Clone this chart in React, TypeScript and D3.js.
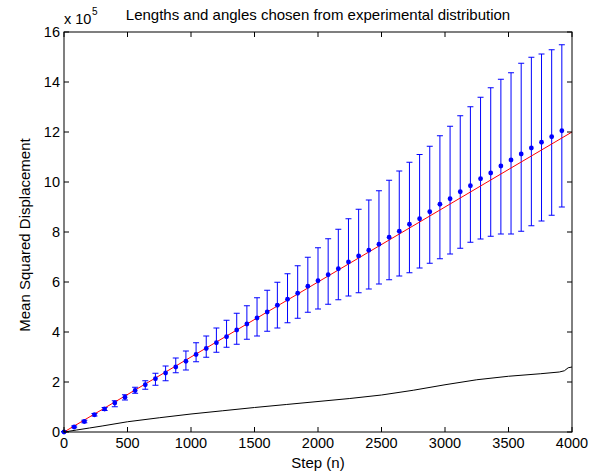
import React from "react";
import * as d3 from "d3";

// Step numbers where mean squared displacement was sampled
const steps = [
  0, 80, 160, 240, 320, 400, 480, 560, 640, 720, 800, 880, 960, 1040, 1120, 1200,
  1280, 1360, 1440, 1520, 1600, 1680, 1760, 1840, 1920, 2000, 2080, 2160, 2240,
  2320, 2400, 2480, 2560, 2640, 2720, 2800, 2880, 2960, 3040, 3120, 3200, 3280,
  3360, 3440, 3520, 3600, 3680, 3760, 3840, 3920,
];
// Mean squared displacement (x 10^5)
const msd = [
  0.0, 0.2, 0.42, 0.69, 0.92, 1.16, 1.39, 1.66, 1.89, 2.13, 2.36, 2.6, 2.83, 3.1,
  3.34, 3.57, 3.81, 4.08, 4.32, 4.56, 4.8, 5.07, 5.31, 5.55, 5.83, 6.05, 6.29,
  6.53, 6.8, 7.04, 7.27, 7.51, 7.79, 8.03, 8.31, 8.53, 8.81, 9.11, 9.33, 9.61,
  9.85, 10.13, 10.36, 10.64, 10.88, 11.12, 11.36, 11.59, 11.81, 12.05,
];
// Error bar upper ends
const upper = [
  0.02, 0.24, 0.47, 0.74, 0.98, 1.25, 1.49, 1.79, 2.05, 2.35, 2.64, 2.96, 3.24,
  3.57, 3.84, 4.16, 4.47, 4.75, 5.05, 5.37, 5.67, 5.99, 6.33, 6.65, 6.99, 7.37,
  7.73, 8.11, 8.53, 8.91, 9.28, 9.65, 10.07, 10.44, 10.79, 11.1, 11.43, 11.85,
  12.23, 12.65, 13.01, 13.39, 13.77, 14.11, 14.37, 14.75, 14.99, 15.12, 15.29,
  15.49,
];
// Error bar lower ends
const lower = [
  0.0, 0.17, 0.37, 0.64, 0.86, 1.01, 1.28, 1.55, 1.71, 1.87, 2.05, 2.37, 2.48,
  2.81, 2.99, 3.19, 3.39, 3.51, 3.71, 3.84, 4.03, 4.16, 4.37, 4.55, 4.79, 4.92,
  5.11, 5.29, 5.44, 5.57, 5.72, 5.92, 6.09, 6.24, 6.37, 6.56, 6.75, 6.93, 7.12,
  7.35, 7.59, 7.72, 7.83, 7.92, 7.92, 8.03, 8.25, 8.44, 8.67, 9.0,
];
// Linear fit (red)
const fitSteps = [0, 4000];
const fitValues = [0, 12.0];
// Black curve
const curveSteps = [
  0, 100, 200, 300, 500, 750, 1000, 1250, 1500, 1750, 2000, 2250, 2500, 2750,
  3000, 3250, 3500, 3750, 3900, 3940, 3970, 4000,
];
const curveValues = [
  0, 0.08, 0.16, 0.24, 0.41, 0.57, 0.72, 0.85, 0.98, 1.1, 1.22, 1.34, 1.48, 1.67,
  1.89, 2.09, 2.23, 2.33, 2.4, 2.45, 2.57, 2.6,
];
const xTicks = [0, 500, 1000, 1500, 2000, 2500, 3000, 3500, 4000];
const yTicks = [0, 2, 4, 6, 8, 10, 12, 14, 16];

const title = "Lengths and angles chosen from experimental distribution";
const xLabel = "Step (n)";
const yLabel = "Mean Squared Displacement";

const W = 592;
const H = 474;
const L = 64;
const R = 572;
const T = 32;
const B = 432;
const FONT = "'Liberation Sans', Arial, Helvetica, sans-serif";

export default function App() {
  const x = d3.scaleLinear().domain([0, 4000]).range([L, R]);
  const y = d3.scaleLinear().domain([0, 16]).range([B, T]);

  const fitLine = d3
    .line<number>()
    .x((_, i) => x(fitSteps[i]))
    .y((d) => y(d))(fitValues);
  const blackLine = d3
    .line<number>()
    .x((_, i) => x(curveSteps[i]))
    .y((d) => y(d))(curveValues);

  const capHalf = 3;
  const tick = 5;

  return (
    <svg
      width={W}
      height={H}
      style={{ position: "absolute", left: 0, top: 0, background: "#fff" }}
      fontFamily={FONT}
    >
      <rect x={0} y={0} width={W} height={H} fill="#fff" />
      {/* black curve */}
      <path d={blackLine || ""} fill="none" stroke="#000" strokeWidth={1} />
      {/* error bars */}
      {steps.map((s, i) => {
        const cx = x(s);
        return (
          <g key={"e" + i} stroke="#0000ff" strokeWidth={1}>
            <line x1={cx} x2={cx} y1={y(upper[i])} y2={y(lower[i])} />
            <line x1={cx - capHalf} x2={cx + capHalf} y1={y(upper[i])} y2={y(upper[i])} />
            <line x1={cx - capHalf} x2={cx + capHalf} y1={y(lower[i])} y2={y(lower[i])} />
          </g>
        );
      })}
      {/* fit line */}
      <path d={fitLine || ""} fill="none" stroke="#ff0000" strokeWidth={1} />
      {/* points */}
      {steps.map((s, i) => (
        <circle key={"p" + i} cx={x(s)} cy={y(msd[i])} r={2.4} fill="#0000ff" />
      ))}
      {/* axes box */}
      <rect x={L} y={T} width={R - L} height={B - T} fill="none" stroke="#000" strokeWidth={1} />
      {xTicks.map((t) => (
        <g key={"xt" + t}>
          <line x1={x(t)} x2={x(t)} y1={B} y2={B - tick} stroke="#000" />
          <line x1={x(t)} x2={x(t)} y1={T} y2={T + tick} stroke="#000" />
          <text x={x(t)} y={448} textAnchor="middle" fontSize={14.5} fill="#000">
            {t}
          </text>
        </g>
      ))}
      {yTicks.map((t) => (
        <g key={"yt" + t}>
          <line x1={L} x2={L + tick} y1={y(t)} y2={y(t)} stroke="#000" />
          <line x1={R} x2={R - tick} y1={y(t)} y2={y(t)} stroke="#000" />
          <text x={L - 4} y={y(t) + 5} textAnchor="end" fontSize={14.5} fill="#000">
            {t}
          </text>
        </g>
      ))}
      {/* exponent */}
      <text x={64} y={24} fontSize={14.5} fill="#000">
        x 10
      </text>
      <text x={92} y={15} fontSize={10} fill="#000">
        5
      </text>
      <text x={(L + R) / 2} y={20} textAnchor="middle" fontSize={15} fill="#000">
        {title}
      </text>
      <text x={(L + R) / 2} y={468} textAnchor="middle" fontSize={15} fill="#000">
        {xLabel}
      </text>
      <text
        transform={`translate(30, ${(T + B) / 2 + 3}) rotate(-90)`}
        textAnchor="middle"
        fontSize={15}
        fill="#000"
      >
        {yLabel}
      </text>
    </svg>
  );
}
